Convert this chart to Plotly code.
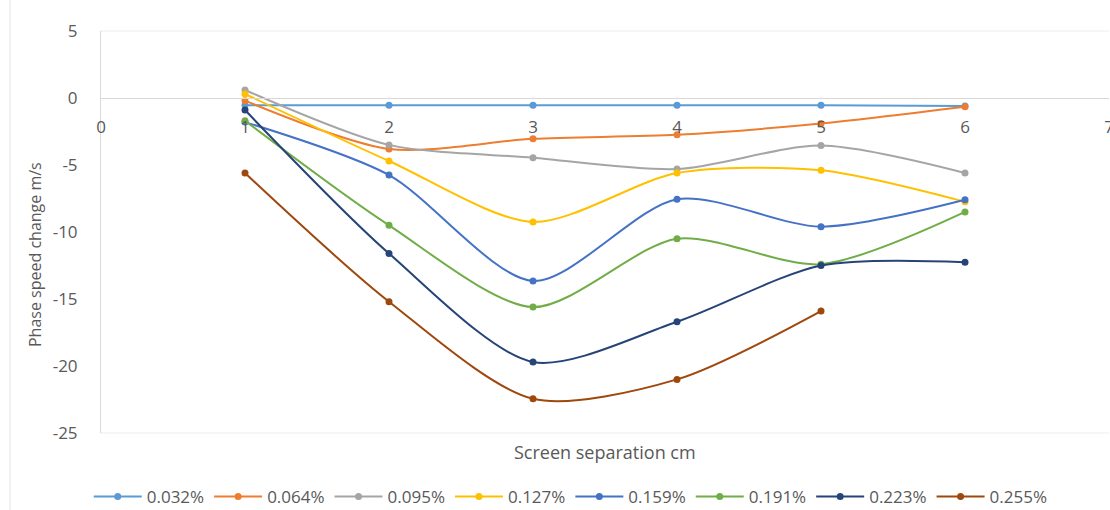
import plotly.graph_objects as go

x_vals = [1, 2, 3, 4, 5, 6]
series_names = ["0.032%", "0.064%", "0.095%", "0.127%", "0.159%", "0.191%", "0.223%", "0.255%"]
s_0032 = [-0.55, -0.55, -0.55, -0.55, -0.55, -0.6]
s_0064 = [-0.2, -3.8, -3.05, -2.75, -1.9, -0.65]
s_0095 = [0.6, -3.5, -4.45, -5.3, -3.55, -5.6]
s_0127 = [0.3, -4.7, -9.25, -5.6, -5.4, -7.75]
s_0159 = [-1.8, -5.75, -13.65, -7.55, -9.6, -7.6]
s_0191 = [-1.7, -9.5, -15.6, -10.5, -12.4, -8.5]
s_0223 = [-0.9, -11.6, -19.7, -16.7, -12.5, -12.25]
s_0255 = [-5.6, -15.2, -22.45, -21.0, -15.9]
all_series = [s_0032, s_0064, s_0095, s_0127, s_0159, s_0191, s_0223, s_0255]
colors = ["#5B9BD5", "#ED7D31", "#A5A5A5", "#FFC000", "#4472C4", "#70AD47", "#264478", "#9E480E"]
y_ticks = [5, 0, -5, -10, -15, -20, -25]
y_tick_text = ["5", "0", "-5", "-10", "-15", "-20", "-25"]
x_ticks = [0, 1, 2, 3, 4, 5, 6, 7]

FONT = "Open Sans, Liberation Sans, sans-serif"
GREY = "#595959"

fig = go.Figure()
for name, vals, col in zip(series_names, all_series, colors):
    fig.add_trace(go.Scatter(
        x=x_vals[:len(vals)], y=vals, name=name, mode="lines+markers",
        line=dict(color=col, width=2, shape="spline", smoothing=0.8),
        marker=dict(color=col, size=7),
    ))

y_min, y_max = -25, 5
fig.update_layout(
    width=1110, height=510,
    margin=dict(l=101, r=1, t=31, b=77),
    paper_bgcolor="white", plot_bgcolor="white",
    font=dict(family=FONT, color=GREY, size=17),
    xaxis=dict(
        range=[0, 7], tickvals=x_ticks, showgrid=False, zeroline=False,
        showline=True, linecolor="#D9D9D9", linewidth=1, automargin=False,
        anchor="free", position=(0 - y_min) / (y_max - y_min),
        ticks="outside", ticklen=14, tickcolor="rgba(0,0,0,0)",
        tickfont=dict(size=17, color=GREY), ticklabeloverflow="allow",
    ),
    yaxis=dict(
        range=[y_min, y_max], tickvals=y_ticks, ticktext=y_tick_text,
        showgrid=False, zeroline=False, automargin=False,
        showline=True, linecolor="#D9D9D9", linewidth=1,
        ticks="outside", ticklen=19, tickcolor="rgba(0,0,0,0)",
        tickfont=dict(size=17, color=GREY),
    ),
    legend=dict(
        orientation="h", x=0.466, xanchor="center",
        yref="container", y=(510 - 497) / 510, yanchor="middle",
        font=dict(size=17, color=GREY), itemwidth=48, tracegroupgap=0,
    ),
    showlegend=True,
)
fig.add_shape(type="line", xref="paper", yref="paper", x0=0, x1=1, y0=1, y1=1,
              line=dict(color="#EDEDED", width=1))
fig.add_shape(type="line", xref="paper", yref="paper", x0=0, x1=1, y0=0, y1=0,
              line=dict(color="#EDEDED", width=1))
fig.add_shape(type="line", xref="paper", yref="paper", x0=-0.0903, x1=-0.0903,
              y0=-0.2, y1=1.1, line=dict(color="#E3E3E3", width=1))
fig.add_annotation(text="Screen separation cm", xref="paper", yref="paper",
                   x=0.5, y=(433 - 452) / 402, yanchor="middle", showarrow=False,
                   font=dict(size=18, color=GREY))
fig.add_annotation(text="Phase speed change m/s", xref="paper", yref="paper",
                   x=0, xshift=-66, xanchor="center", y=(433 - 255) / 402, yanchor="middle",
                   textangle=-90, showarrow=False, font=dict(size=16, color=GREY))
fig.write_html("out.html", post_script="document.body.style.margin='0';",
               config={"displayModeBar": False})
